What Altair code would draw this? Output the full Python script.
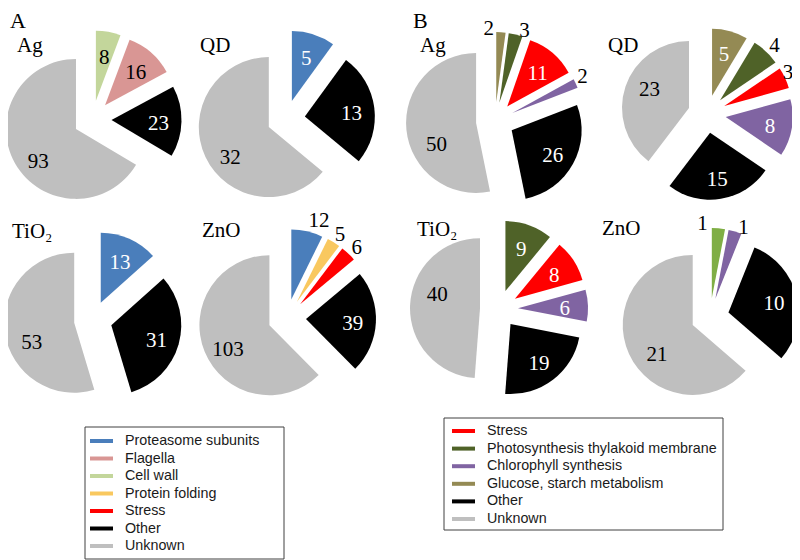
import math
import altair as alt
import pandas as pd

# ---------------- data (clockwise from 12 o'clock) ----------------
panel_names = ["A", "B"]
pie_names = ["Ag", "QD", "TiO₂", "ZnO"]

a_ag_cats = ["Cell wall", "Flagella", "Other", "Unknown"]
a_ag_vals = [8, 16, 23, 93]
a_qd_cats = ["Proteasome subunits", "Other", "Unknown"]
a_qd_vals = [5, 13, 32]
a_tio2_cats = ["Proteasome subunits", "Other", "Unknown"]
a_tio2_vals = [13, 31, 53]
a_zno_cats = ["Proteasome subunits", "Protein folding", "Stress", "Other", "Unknown"]
a_zno_vals = [12, 5, 6, 39, 103]

b_ag_cats = ["Glucose, starch metabolism", "Photosynthesis thylakoid membrane", "Stress",
             "Chlorophyll synthesis", "Other", "Unknown"]
b_ag_vals = [2, 3, 11, 2, 26, 50]
b_qd_cats = ["Glucose, starch metabolism", "Photosynthesis thylakoid membrane", "Stress",
             "Chlorophyll synthesis", "Other", "Unknown"]
b_qd_vals = [5, 4, 3, 8, 15, 23]
b_tio2_cats = ["Photosynthesis thylakoid membrane", "Stress", "Chlorophyll synthesis", "Other", "Unknown"]
b_tio2_vals = [9, 8, 6, 19, 40]
b_zno_cats = ["Light green", "Chlorophyll synthesis", "Other", "Unknown"]
b_zno_vals = [1, 1, 10, 21]

legend_a = ["Proteasome subunits", "Flagella", "Cell wall", "Protein folding", "Stress", "Other", "Unknown"]
legend_b = ["Stress", "Photosynthesis thylakoid membrane", "Chlorophyll synthesis",
            "Glucose, starch metabolism", "Other", "Unknown"]

# ---------------- styles ----------------
colors = {
    "Proteasome subunits": "#4a7ebb",
    "Flagella": "#d99694",
    "Cell wall": "#c3d69b",
    "Protein folding": "#f9c85f",
    "Stress": "#ff0000",
    "Other": "#000000",
    "Unknown": "#bfbfbf",
    "Photosynthesis thylakoid membrane": "#4f6228",
    "Chlorophyll synthesis": "#8064a2",
    "Glucose, starch metabolism": "#948a54",
    "Light green": "#7fae45",
}
white_label = {"Proteasome subunits", "Stress", "Other", "Photosynthesis thylakoid membrane",
               "Chlorophyll synthesis", "Glucose, starch metabolism"}

# ---------------- layout (pixel positions on the 800x560 page) ----------------
W, H = 784, 552
R_DEFAULT = 70
EXPLODE = 19
LABEL_DY = 3
centers = {
    ("A", "Ag"): (92.5, 119.5), ("A", "QD"): (286, 119),
    ("A", "TiO₂"): (93, 320), ("A", "ZnO"): (287, 318),
    ("B", "Ag"): (495, 121), ("B", "QD"): (707, 114),
    ("B", "TiO₂"): (499, 309), ("B", "ZnO"): (710, 317),
}
radii = {("B", "QD"): 67}
outside = {
    ("A", "ZnO"): {"Proteasome subunits", "Protein folding", "Stress"},
    ("B", "Ag"): {"Glucose, starch metabolism", "Photosynthesis thylakoid membrane", "Chlorophyll synthesis"},
    ("B", "QD"): {"Photosynthesis thylakoid membrane", "Stress"},
    ("B", "ZnO"): {"Light green", "Chlorophyll synthesis"},
}
label_nudge = {
    ("A", "ZnO", "Proteasome subunits"): (9, -2),
    ("B", "Ag", "Glucose, starch metabolism"): (-13, 6),
    ("B", "Ag", "Photosynthesis thylakoid membrane"): (6, 5),
    ("B", "Ag", "Chlorophyll synthesis"): (-4, -4),
    ("B", "QD", "Stress"): (-8, -3),
    ("B", "ZnO", "Light green"): (-17, 5),
    ("B", "ZnO", "Chlorophyll synthesis"): (5, 5),
    ("A", "Ag", "Unknown"): (3, 7),
    ("A", "QD", "Unknown"): (4, 8),
    ("A", "TiO₂", "Unknown"): (4, 10),
    ("A", "ZnO", "Unknown"): (2, 4),
    ("B", "Ag", "Unknown"): (7, 14),
    ("B", "QD", "Unknown"): (3, -7),
    ("B", "TiO₂", "Unknown"): (4, -14),
    ("B", "ZnO", "Unknown"): (7, 8),
}
title_pos = {
    ("A", "Ag"): (17, 52), ("A", "QD"): (200, 52),
    ("A", "TiO₂"): (12, 238), ("A", "ZnO"): (202, 237),
    ("B", "Ag"): (420, 52), ("B", "QD"): (608, 52),
    ("B", "TiO₂"): (417, 236), ("B", "ZnO"): (602, 235),
}
panel_pos = {"A": (10, 28), "B": (413, 28)}
legend_layout = {
    "A": dict(box=(85, 284, 427, 559), sw=(90, 113), tx=125, y0=441, step=17.5),
    "B": dict(box=(444, 723, 418, 530), sw=(452, 475), tx=487, y0=431, step=17.6),
}

pies = [
    ("A", "Ag", a_ag_cats, a_ag_vals), ("A", "QD", a_qd_cats, a_qd_vals),
    ("A", "TiO₂", a_tio2_cats, a_tio2_vals), ("A", "ZnO", a_zno_cats, a_zno_vals),
    ("B", "Ag", b_ag_cats, b_ag_vals), ("B", "QD", b_qd_cats, b_qd_vals),
    ("B", "TiO₂", b_tio2_cats, b_tio2_vals), ("B", "ZnO", b_zno_cats, b_zno_vals),
]

rows = []
for panel, pie, cats, vals in pies:
    cx, cy = centers[(panel, pie)]
    R = radii.get((panel, pie), R_DEFAULT)
    total = sum(vals)
    cum = 0
    for cat, v in zip(cats, vals):
        t0 = 2 * math.pi * cum / total
        t1 = 2 * math.pi * (cum + v) / total
        cum += v
        m = (t0 + t1) / 2
        ax = cx + EXPLODE * math.sin(m)
        ay = cy - EXPLODE * math.cos(m)
        is_out = cat in outside.get((panel, pie), set())
        rl = R + 12 if is_out else 0.67 * R
        ndx, ndy = label_nudge.get((panel, pie, cat), (0, 0))
        lx = ax + rl * math.sin(m) + ndx
        ly = ay - rl * math.cos(m) + ndy + LABEL_DY
        lc = "#ffffff" if (cat in white_label and not is_out) else "#000000"
        rows.append(dict(panel=panel, pie=pie, cat=cat, v=v, t0=t0, t1=t1, r=R,
                         ax=ax, ay=ay, lx=lx, ly=ly, lc=lc))
slices = pd.DataFrame(rows)

titles = pd.DataFrame([dict(name=p, tx=title_pos[(pa, p)][0], ty=title_pos[(pa, p)][1])
                       for pa in panel_names for p in pie_names])
panels = pd.DataFrame([dict(name=p, tx=panel_pos[p][0], ty=panel_pos[p][1]) for p in panel_names])

leg_rows, boxes = [], []
for p, entries in (("A", legend_a), ("B", legend_b)):
    L = legend_layout[p]
    for i, cat in enumerate(entries):
        leg_rows.append(dict(cat=cat, x1=L["sw"][0], x2=L["sw"][1], tx=L["tx"], y=L["y0"] + i * L["step"]))
    b = L["box"]
    boxes.append(dict(x1=b[0], x2=b[1], y1=b[2], y2=b[3]))
leg = pd.DataFrame(leg_rows)
box = pd.DataFrame(boxes)

# ---------------- chart ----------------
xs = alt.Scale(domain=[8, 8 + W], nice=False, zero=False)
ys = alt.Scale(domain=[8, 8 + H], nice=False, zero=False, reverse=True)
cscale = alt.Scale(domain=list(colors.keys()), range=list(colors.values()))

arcs = alt.Chart(slices).mark_arc().encode(
    x=alt.X("ax:Q", scale=xs, axis=None),
    y=alt.Y("ay:Q", scale=ys, axis=None),
    theta=alt.Theta("t0:Q", scale=None, stack=None),
    theta2="t1:Q",
    radius=alt.Radius("r:Q", scale=None),
    color=alt.Color("cat:N", scale=cscale, legend=None),
)

labels = alt.Chart(slices).mark_text(
    font="Liberation Serif", fontSize=21, align="center", baseline="middle"
).encode(
    x=alt.X("lx:Q", scale=xs, axis=None),
    y=alt.Y("ly:Q", scale=ys, axis=None),
    text="v:Q",
    color=alt.Color("lc:N", scale=None),
)

title_text = alt.Chart(titles).mark_text(
    font="Liberation Serif", fontSize=21, align="left", baseline="alphabetic", color="#000000"
).encode(
    x=alt.X("tx:Q", scale=xs, axis=None),
    y=alt.Y("ty:Q", scale=ys, axis=None),
    text="name:N",
)

panel_text = alt.Chart(panels).mark_text(
    font="Liberation Serif", fontSize=22, align="left", baseline="alphabetic", color="#000000"
).encode(
    x=alt.X("tx:Q", scale=xs, axis=None),
    y=alt.Y("ty:Q", scale=ys, axis=None),
    text="name:N",
)

leg_box = alt.Chart(box).mark_rect(filled=False, color="#404040", strokeWidth=1).encode(
    x=alt.X("x1:Q", scale=xs, axis=None), x2="x2:Q",
    y=alt.Y("y1:Q", scale=ys, axis=None), y2="y2:Q",
)

leg_sw = alt.Chart(leg).mark_rule(strokeWidth=4).encode(
    x=alt.X("x1:Q", scale=xs, axis=None), x2="x2:Q",
    y=alt.Y("y:Q", scale=ys, axis=None),
    color=alt.Color("cat:N", scale=cscale, legend=None),
)

leg_txt = alt.Chart(leg).mark_text(
    font="Liberation Sans", fontSize=14.3, align="left", baseline="middle", color="#1a1a1a"
).encode(
    x=alt.X("tx:Q", scale=xs, axis=None),
    y=alt.Y("y:Q", scale=ys, axis=None),
    text="cat:N",
)

chart = alt.layer(arcs, labels, title_text, panel_text, leg_box, leg_sw, leg_txt).properties(
    width=W, height=H, padding=0, autosize=alt.AutoSizeParams(type="none"), background="#ffffff"
).configure_view(stroke=None)

chart.save("out.html", embed_options={"renderer": "svg", "actions": False})
